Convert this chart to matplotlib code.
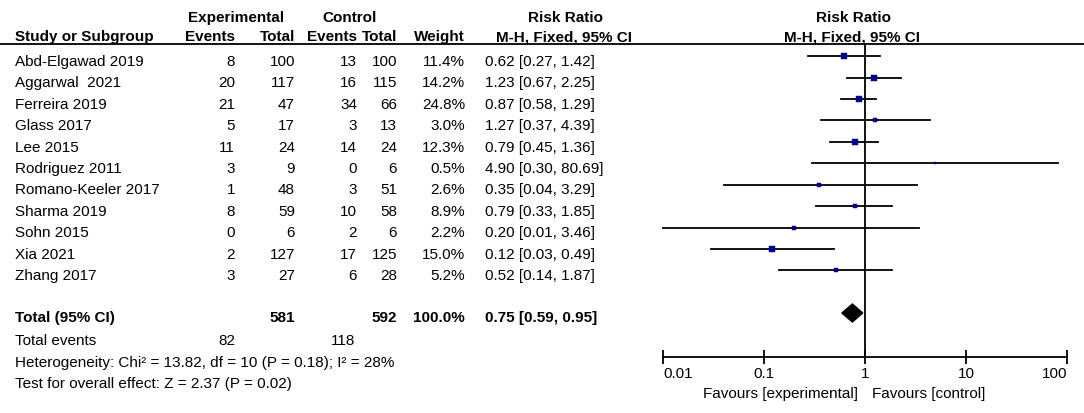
import matplotlib
matplotlib.use("Agg")
import matplotlib.pyplot as plt
import numpy as np

plt.rcParams['font.family'] = ['Liberation Sans', 'DejaVu Sans']

studies = ['Abd-Elgawad 2019', 'Aggarwal  2021', 'Ferreira 2019', 'Glass 2017', 'Lee 2015',
           'Rodriguez 2011', 'Romano-Keeler 2017', 'Sharma 2019', 'Sohn 2015', 'Xia 2021', 'Zhang 2017']
exp_events = [8, 20, 21, 5, 11, 3, 1, 8, 0, 2, 3]
exp_total = [100, 117, 47, 17, 24, 9, 48, 59, 6, 127, 27]
ctl_events = [13, 16, 34, 3, 14, 0, 3, 10, 2, 17, 6]
ctl_total = [100, 115, 66, 13, 24, 6, 51, 58, 6, 125, 28]
weight = [11.4, 14.2, 24.8, 3.0, 12.3, 0.5, 2.6, 8.9, 2.2, 15.0, 5.2]
rr = [0.62, 1.23, 0.87, 1.27, 0.79, 4.90, 0.35, 0.79, 0.20, 0.12, 0.52]
lo = [0.27, 0.67, 0.58, 0.37, 0.45, 0.30, 0.04, 0.33, 0.01, 0.03, 0.14]
hi = [1.42, 2.25, 1.29, 4.39, 1.36, 80.69, 3.29, 1.85, 3.46, 0.49, 1.87]

tot_exp, tot_ctl = 581, 592
tot_weight = 100.0
tot_exp_ev, tot_ctl_ev = 82, 118
pooled = (0.75, 0.59, 0.95)
ticks = [0.01, 0.1, 1, 10, 100]
tick_labels = ['0.01', '0.1', '1', '10', '100']

W, H = 1084, 413
fig = plt.figure(figsize=(W / 100, H / 100), dpi=100)

# table layer, pixel coordinates
tab = fig.add_axes([0, 0, 1, 1])
tab.set_xlim(0, W)
tab.set_ylim(H, 0)
tab.axis('off')

fs = 11
y0, dy = 66, 21.4          # baseline of first row, row spacing
rows_y = [y0 + i * dy for i in range(len(studies))]
y_tot = 322
mark_off = 9.7             # whiskers sit at mid cap height

hb = dict(fontsize=fs, fontweight='bold', va='baseline')
tr = dict(fontsize=fs, va='baseline')

# header
tab.text(236, 22, 'Experimental', ha='center', **hb)
tab.text(350, 22, 'Control', ha='center', **hb)
tab.text(565, 22, 'Risk Ratio', ha='center', **hb)
tab.text(853, 22, 'Risk Ratio', ha='center', **hb)
tab.text(15, 41, 'Study or Subgroup', ha='left', **hb)
tab.text(235, 41, 'Events', ha='right', **hb)
tab.text(295, 41, 'Total', ha='right', **hb)
tab.text(357, 41, 'Events', ha='right', **hb)
tab.text(397, 41, 'Total', ha='right', **hb)
tab.text(465, 41, 'Weight', ha='right', **hb)
tab.text(564, 41, 'M-H, Fixed, 95% CI', ha='center', **hb)
tab.text(852, 41, 'M-H, Fixed, 95% CI', ha='center', **hb)
tab.plot([0, W], [44, 44], color='black', lw=1.3)

for i, y in enumerate(rows_y):
    tab.text(15, y, studies[i], ha='left', **tr)
    tab.text(235, y, str(exp_events[i]), ha='right', **tr)
    tab.text(295, y, str(exp_total[i]), ha='right', **tr)
    tab.text(357, y, str(ctl_events[i]), ha='right', **tr)
    tab.text(397, y, str(ctl_total[i]), ha='right', **tr)
    tab.text(465, y, f'{weight[i]:.1f}%', ha='right', **tr)
    tab.text(485, y, f'{rr[i]:.2f} [{lo[i]:.2f}, {hi[i]:.2f}]', ha='left', **tr)

tab.text(15, y_tot, 'Total (95% CI)', ha='left', **hb)
tab.text(295, y_tot, str(tot_exp), ha='right', **hb)
tab.text(397, y_tot, str(tot_ctl), ha='right', **hb)
tab.text(465, y_tot, f'{tot_weight:.1f}%', ha='right', **hb)
tab.text(485, y_tot, f'{pooled[0]:.2f} [{pooled[1]:.2f}, {pooled[2]:.2f}]', ha='left', **hb)

tab.text(15, 345, 'Total events', ha='left', **tr)
tab.text(235, 345, str(tot_exp_ev), ha='right', **tr)
tab.text(355, 345, str(tot_ctl_ev), ha='right', **tr)
tab.text(15, 367, 'Heterogeneity: Chi² = 13.82, df = 10 (P = 0.18); I² = 28%', ha='left', **tr)
tab.text(15, 388, 'Test for overall effect: Z = 2.37 (P = 0.02)', ha='left', **tr)

# forest plot
x_left, x_right, y_top, y_axis = 663, 1067, 44, 357
ax = fig.add_axes([x_left / W, 1 - y_axis / H, (x_right - x_left) / W, (y_axis - y_top) / H])
ax.patch.set_alpha(0)
ax.set_xscale('log')
ax.set_xlim(0.01, 100)
ax.set_ylim(y_axis, y_top)
for s in ['top', 'left', 'right']:
    ax.spines[s].set_visible(False)
ax.spines['bottom'].set_linewidth(1.3)
ax.set_yticks([])
ax.set_xticks(ticks)
ax.set_xticklabels(tick_labels, fontsize=fs)
ax.minorticks_off()
ax.tick_params(axis='x', direction='inout', length=10, width=1.3, pad=2)
lbls = ax.get_xticklabels()
lbls[0].set_ha('left')
lbls[-1].set_ha('right')

ax.axvline(1, color='black', lw=1.3)
for i, y in enumerate(rows_y):
    ym = y - mark_off
    ax.plot([lo[i], hi[i]], [ym, ym], color='black', lw=1.3, clip_on=False)
    side_px = 2.3 + 1.0 * np.sqrt(weight[i])
    ax.plot(rr[i], ym, marker='s', color='#000090', ms=side_px * 0.72 - 0.3,
            mec='#000090', mew=0.3, clip_on=False, zorder=3)

est, plo, phi = pooled
yd = y_tot - 9
ax.fill([plo, est, phi, est], [yd, yd - 9, yd, yd + 9], color='black')

tab.text(858, 398, 'Favours [experimental]', ha='right', **tr)
tab.text(872, 398, 'Favours [control]', ha='left', **tr)

fig.savefig('out.png', dpi=100)
